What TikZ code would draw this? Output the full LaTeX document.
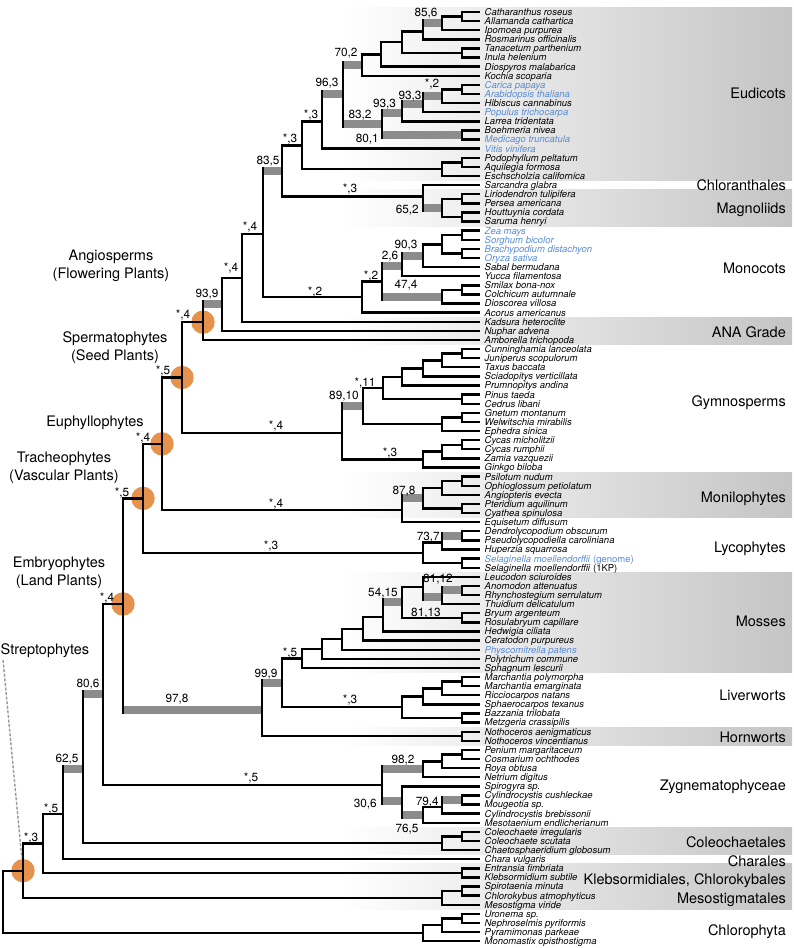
\documentclass[tikz,border=0pt]{standalone}
\usepackage{fontspec}
\setmainfont{texgyreheros}[Extension=.otf, UprightFont=*-regular,
  ItalicFont=*-italic, BoldFont=*-bold, BoldItalicFont=*-bolditalic]
\usetikzlibrary{calc}

\definecolor{taxblue}{RGB}{88,140,214}
\definecolor{barGray}{RGB}{140,140,140}
\definecolor{nodeOrange}{RGB}{231,146,76}

\pgfdeclarelayer{background}
\pgfsetlayers{background,main}

\tikzset{
  branch/.style={line width=2.4pt, line join=miter},
  supline/.style={line width=8pt, draw=barGray},
  taxon/.style={anchor=west, inner xsep=4.5pt, inner ysep=0pt,
    font=\fontsize{9.5}{9.5}\selectfont\itshape, text height=6.8pt, text depth=0pt},
  suplabel/.style={inner sep=0pt, font=\fontsize{11.8}{11.8}\selectfont,
    text height=8.4pt, text depth=0pt},
  cladeR/.style={anchor=east, inner sep=0pt, font=\fontsize{14.5}{14.5}\selectfont,
    text height=10.4pt, text depth=0pt},
  cladeS/.style={inner sep=0pt, font=\fontsize{14.5}{14.5}\selectfont,
    text height=10.4pt, text depth=0pt},
  cladeL/.style={inner sep=0pt, align=center, font=\fontsize{14.5}{18}\selectfont},
  keynode/.style={circle, fill=nodeOrange, minimum size=23.4pt, inner sep=0pt},
  bandfill/.style={left color=white, right color=black!23},
  strepline/.style={draw=black!40, line width=1.4pt, dash pattern=on 3pt off 1.6pt},
}

% blue = sequenced genome
\newcommand{\bl}[1]{\textcolor{taxblue}{#1}}
% clade: name, x, upper child, lower child
\newcommand{\mkclade}[4]{%
  \path let \p1=(#3), \p2=(#4) in (#2pt,{0.5*(\y1+\y2)}) coordinate (#1);
  \draw[branch] (#1) |- (#3);
  \draw[branch] (#1) |- (#4);
}
% grey support bar on the branch parent -> child
\newcommand{\supbar}[2]{%
  \draw[supline] (#1 |- #2) -- ($(#2)+(-1.2pt,0pt)$);
  \draw[branch] ($(#1 |- #2)+(0pt,-4pt)$) -- ($(#1 |- #2)+(0pt,4pt)$);
}
% shaded band behind taxa #1..#2
\newcommand{\mkband}[2]{%
  \shade[bandfill] (340,{12+(#1-1)*9.11-4.55}) rectangle (792,{12+(#2-1)*9.11+4.55});
}

\begin{document}
\begin{tikzpicture}[x=1pt,y=-1pt]
\useasboundingbox (0,0) rectangle (794,948);

% Bands
\begin{pgfonlayer}{background}
\mkband{1}{19}
\mkband{21}{24}
\mkband{35}{37}
\mkband{52}{56}
\mkband{63}{73}
\mkband{80}{81}
\mkband{91}{93}
\mkband{95}{99}
\end{pgfonlayer}

% Taxa
\foreach \tx [count=\i] in {
  Catharanthus roseus, Allamanda cathartica, Ipomoea purpurea,
  Rosmarinus officinalis, Tanacetum parthenium, Inula helenium,
  Diospyros malabarica, Kochia scoparia, \bl{Carica papaya},
  \bl{Arabidopsis thaliana}, Hibiscus cannabinus, \bl{Populus trichocarpa},
  Larrea tridentata, Boehmeria nivea, \bl{Medicago truncatula},
  \bl{Vitis vinifera}, Podophyllum peltatum, Aquilegia formosa,
  Eschscholzia californica, Sarcandra glabra, Liriodendron tulipifera,
  Persea americana, Houttuynia cordata, Saruma henryi,
  \bl{Zea mays}, \bl{Sorghum bicolor}, \bl{Brachypodium distachyon},
  \bl{Oryza sativa}, Sabal bermudana, Yucca filamentosa,
  Smilax bona-nox, Colchicum autumnale, Dioscorea villosa,
  Acorus americanus, Kadsura heteroclite, Nuphar advena,
  Amborella trichopoda, Cunninghamia lanceolata, Juniperus scopulorum,
  Taxus baccata, Sciadopitys verticillata, Prumnopitys andina,
  Pinus taeda, Cedrus libani, Gnetum montanum,
  Welwitschia mirabilis, Ephedra sinica, Cycas micholitzii,
  Cycas rumphii, Zamia vazquezii, Ginkgo biloba,
  Psilotum nudum, Ophioglossum petiolatum, Angiopteris evecta,
  Pteridium aquilinum, Cyathea spinulosa, Equisetum diffusum,
  Dendrolycopodium obscurum, Pseudolycopodiella caroliniana, Huperzia squarrosa,
  \bl{Selaginella moellendorffii \textup{(genome)}},
  Selaginella moellendorffii \textup{(1KP)}, Leucodon sciuroides,
  Anomodon attenuatus, Rhynchostegium serrulatum, Thuidium delicatulum,
  Bryum argenteum, Rosulabryum capillare, Hedwigia ciliata,
  Ceratodon purpureus, \bl{Physcomitrella patens}, Polytrichum commune,
  Sphagnum lescurii, Marchantia polymorpha, Marchantia emarginata,
  Ricciocarpos natans, Sphaerocarpos texanus, Bazzania trilobata,
  Metzgeria crassipilis, Nothoceros aenigmaticus, Nothoceros vincentianus,
  Penium margaritaceum, Cosmarium ochthodes, Roya obtusa,
  Netrium digitus, Spirogyra sp., Cylindrocystis cushleckae,
  Mougeotia sp., Cylindrocystis brebissonii, Mesotaenium endlicherianum,
  Coleochaete irregularis, Coleochaete scutata, Chaetosphaeridium globosum,
  Chara vulgaris, Entransia fimbriata, Klebsormidium subtile,
  Spirotaenia minuta, Chlorokybus atmophyticus, Mesostigma viride,
  Uronema sp., Nephroselmis pyriformis, Pyramimonas parkeae,
  Monomastix opisthostigma}
  \node[taxon] (t\i) at (480,{12+(\i-1)*9.11}) {\tx};

% Eudicots
\mkclade{a1}{462}{t1.west}{t2.west}
\mkclade{a2}{442}{a1}{t3.west}
\mkclade{a3}{423}{a2}{t4.west}
\mkclade{a4}{462}{t5.west}{t6.west}
\mkclade{a5}{402}{a3}{a4}
\mkclade{a6}{381}{a5}{t7.west}
\mkclade{a7}{362}{a6}{t8.west}
\mkclade{a8}{462}{t9.west}{t10.west}
\mkclade{a9}{442}{a8}{t11.west}
\mkclade{a10}{423}{a9}{t12.west}
\mkclade{a11}{402}{a10}{t13.west}
\mkclade{a12}{462}{t14.west}{t15.west}
\mkclade{a13}{382}{a11}{a12}
\mkclade{a14}{343}{a7}{a13}
\mkclade{a15}{322}{a14}{t16.west}
\mkclade{a16}{462}{t17.west}{t18.west}
\mkclade{a17}{442}{a16}{t19.west}
\mkclade{a18}{302}{a15}{a17}
\supbar{a3}{a2}
\supbar{a10}{a9}
\supbar{a11}{a10}
\supbar{a13}{a11}
\supbar{a13}{a12}
\supbar{a14}{a7}
\supbar{a14}{a13}
\supbar{a15}{a14}

% Chloranthales, Magnoliids
\mkclade{m1}{462}{t21.west}{t22.west}
\mkclade{m2}{462}{t23.west}{t24.west}
\mkclade{m3}{442}{m1}{m2}
\mkclade{m4}{423}{t20.west}{m3}
\mkclade{a19}{282}{a18}{m4}
\supbar{m4}{m3}

% Monocots
\mkclade{k1}{462}{t25.west}{t26.west}
\mkclade{k2}{462}{t27.west}{t28.west}
\mkclade{k3}{442}{k1}{k2}
\mkclade{k4}{423}{k3}{t29.west}
\mkclade{k5}{402}{k4}{t30.west}
\mkclade{k6}{462}{t31.west}{t32.west}
\mkclade{k7}{442}{k6}{t33.west}
\mkclade{k8}{382}{k5}{k7}
\mkclade{k9}{362}{k8}{t34.west}
\supbar{k5}{k4}
\supbar{k8}{k5}
\supbar{k8}{k7}

% ANA grade
\mkclade{g1}{263}{a19}{k9}
\mkclade{g2}{242}{g1}{t35.west}
\mkclade{g3}{222}{g2}{t36.west}
\mkclade{g4}{203}{g3}{t37.west}
\supbar{g1}{a19}
\supbar{g4}{g3}

% Gymnosperms
\mkclade{y1}{462}{t38.west}{t39.west}
\mkclade{y2}{442}{y1}{t40.west}
\mkclade{y3}{423}{y2}{t41.west}
\mkclade{y4}{402}{y3}{t42.west}
\mkclade{y5}{462}{t43.west}{t44.west}
\mkclade{y6}{383}{y4}{y5}
\mkclade{y7}{462}{t45.west}{t46.west}
\mkclade{y8}{442}{y7}{t47.west}
\mkclade{y9}{363}{y6}{y8}
\mkclade{y10}{462}{t48.west}{t49.west}
\mkclade{y11}{442}{y10}{t50.west}
\mkclade{y12}{423}{y11}{t51.west}
\mkclade{y13}{342}{y9}{y12}
\mkclade{sp}{182}{g4}{y13}
\supbar{y13}{y9}

% Monilophytes
\mkclade{f1}{462}{t52.west}{t53.west}
\mkclade{f2}{442}{f1}{t54.west}
\mkclade{f3}{462}{t55.west}{t56.west}
\mkclade{f4}{423}{f2}{f3}
\mkclade{f5}{402}{f4}{t57.west}
\mkclade{eu}{162}{sp}{f5}
\supbar{f5}{f4}

% Lycophytes
\mkclade{l1}{462}{t58.west}{t59.west}
\mkclade{l2}{442}{l1}{t60.west}
\mkclade{l3}{462}{t61.west}{t62.west}
\mkclade{l4}{423}{l2}{l3}
\mkclade{tr}{143}{eu}{l4}
\supbar{l2}{l1}

% Mosses
\mkclade{b1}{462}{t64.west}{t65.west}
\mkclade{b2}{442}{b1}{t66.west}
\mkclade{b3}{423}{t63.west}{b2}
\mkclade{b4}{462}{t67.west}{t68.west}
\mkclade{b5}{402}{b3}{b4}
\mkclade{b6}{383}{b5}{t69.west}
\mkclade{b7}{363}{b6}{t70.west}
\mkclade{b8}{342}{b7}{t71.west}
\mkclade{b9}{322}{b8}{t72.west}
\mkclade{b10}{302}{b9}{t73.west}
\supbar{b2}{b1}
\supbar{b3}{b2}
\supbar{b6}{b5}

% Liverworts, Hornworts
\mkclade{v1}{462}{t74.west}{t75.west}
\mkclade{v2}{442}{v1}{t76.west}
\mkclade{v3}{423}{v2}{t77.west}
\mkclade{v4}{462}{t78.west}{t79.west}
\mkclade{v5}{402}{v3}{v4}
\mkclade{b11}{282}{b10}{v5}
\mkclade{h1}{462}{t80.west}{t81.west}
\mkclade{b12}{262}{b11}{h1}
\mkclade{em}{123}{tr}{b12}
\supbar{b12}{b11}
\supbar{em}{b12}

% Zygnematophyceae
\mkclade{z1}{462}{t82.west}{t83.west}
\mkclade{z2}{442}{z1}{t84.west}
\mkclade{z3}{423}{z2}{t85.west}
\mkclade{z4}{462}{t87.west}{t88.west}
\mkclade{z5}{442}{z4}{t89.west}
\mkclade{z6}{423}{z5}{t90.west}
\mkclade{z7}{402}{t86.west}{z6}
\mkclade{z8}{382}{z3}{z7}
\mkclade{r1}{103}{em}{z8}
\supbar{z5}{z4}
\supbar{z7}{z6}
\supbar{z8}{z3}
\supbar{z8}{z7}

% Algal grades
\mkclade{c1}{462}{t91.west}{t92.west}
\mkclade{c2}{442}{c1}{t93.west}
\mkclade{r2}{83}{r1}{c2}
\mkclade{r3}{63}{r2}{t94.west}
\mkclade{q1}{462}{t95.west}{t96.west}
\mkclade{r4}{43}{r3}{q1}
\mkclade{q2}{462}{t97.west}{t98.west}
\mkclade{q3}{442}{q2}{t99.west}
\mkclade{st}{23}{r4}{q3}
\supbar{r2}{r1}
\supbar{r3}{r2}

% Chlorophyta and root
\mkclade{p1}{462}{t100.west}{t101.west}
\mkclade{p2}{442}{p1}{t102.west}
\mkclade{p3}{423}{p2}{t103.west}
\mkclade{root}{3}{st}{p3}

% Key nodes
\begin{pgfonlayer}{background}
\node[keynode] (oAng) at (g4) {};
\node[keynode] (oSpe) at (sp) {};
\node[keynode] (oEup) at (eu) {};
\node[keynode] (oTra) at (tr) {};
\node[keynode] (oEmb) at (em) {};
\node[keynode] (oStr) at (st) {};
\end{pgfonlayer}

% Support values
\node[suplabel] (sl1) at (426,12) {85,6};
\node[suplabel] (sl2) at (346,52) {70,2};
\node[suplabel] (sl3) at (327,82) {96,3};
\node[suplabel] (sl4) at (360,114) {83,2};
\node[suplabel] (sl5) at (384.5,103) {93,3};
\node[suplabel,anchor=east] (sl6) at (379,138) {80,1};
\node[suplabel] (sl7) at (410,95) {93,3};
\node[suplabel] (sl8) at (432,83) {*,2};
\node[suplabel] (sl9) at (311,114) {*,3};
\node[suplabel] (sl10) at (290,138) {*,3};
\node[suplabel] (sl11) at (268,160) {83,5};
\node[suplabel] (sl12) at (350,188) {*,3};
\node[suplabel,anchor=east] (sl13) at (419,209) {65,2};
\node[suplabel] (sl14) at (250,226) {*,4};
\node[suplabel] (sl15) at (231,267) {*,4};
\node[suplabel] (sl16) at (207,293) {93,9};
\node[suplabel] (sl17) at (183,314) {*,4};
\node[suplabel] (sl18) at (315,291) {*,2};
\node[suplabel] (sl19) at (371,275) {*,2};
\node[suplabel] (sl20) at (390,255) {2,6};
\node[suplabel] (sl21) at (406,244) {90,3};
\node[suplabel] (sl22) at (406,284) {47,4};
\node[suplabel] (sl23) at (163,370) {*,5};
\node[suplabel] (sl24) at (365,382) {*,11};
\node[suplabel] (sl25) at (344,395) {89,10};
\node[suplabel] (sl26) at (276,425) {*,4};
\node[suplabel] (sl27) at (390,452) {*,3};
\node[suplabel] (sl28) at (143,437) {*,4};
\node[suplabel] (sl29) at (276,503) {*,4};
\node[suplabel] (sl30) at (404,490) {87,8};
\node[suplabel] (sl31) at (122,492) {*,5};
\node[suplabel] (sl32) at (271,545) {*,3};
\node[suplabel,anchor=east] (sl33) at (440,536) {73,7};
\node[suplabel] (sl34) at (107,597) {*,4};
\node[suplabel] (sl35) at (383,592) {54,15};
\node[suplabel] (sl36) at (438,578) {81,12};
\node[suplabel] (sl37) at (426,612) {81,13};
\node[suplabel] (sl38) at (290,652) {*,5};
\node[suplabel] (sl39) at (350,699) {*,3};
\node[suplabel] (sl40) at (266,673) {99,9};
\node[suplabel] (sl41) at (177,698) {97,8};
\node[suplabel] (sl42) at (88,683) {80,6};
\node[suplabel] (sl43) at (251,777) {*,5};
\node[suplabel] (sl44) at (403,759) {98,2};
\node[suplabel,anchor=east] (sl45) at (377,803) {30,6};
\node[suplabel,anchor=east] (sl46) at (439,801) {79,4};
\node[suplabel] (sl47) at (407,828) {76,5};
\node[suplabel] (sl48) at (67,758) {62,5};
\node[suplabel] (sl49) at (51,808) {*,5};
\node[suplabel] (sl50) at (31,837) {*,3};

% Clade names, left
\node[cladeL] (nAng) at (111,265.5) {Angiosperms\\(Flowering Plants)};
\node[cladeL] (nSpe) at (115,347.5) {Spermatophytes\\(Seed Plants)};
\node[cladeS] (nEup) at (95,421) {Euphyllophytes};
\node[cladeL] (nTra) at (64,467.5) {Tracheophytes\\(Vascular Plants)};
\node[cladeL] (nEmb) at (59,572.5) {Embryophytes\\(Land Plants)};
\node[cladeS,anchor=west] (nStr) at (0.5,649) {Streptophytes};
\coordinate (strepfoot) at (3,660);
\draw[strepline, shorten >=12.5pt] (strepfoot) -- (st);

% Clade names, right
\node[cladeR] (rEud) at (786,93) {Eudicots};
\node[cladeR] (rChl) at (786,185) {Chloranthales};
\node[cladeR] (rMag) at (786,208) {Magnoliids};
\node[cladeR] (rMon) at (786,268) {Monocots};
\node[cladeR] (rANA) at (786,332) {ANA Grade};
\node[cladeR] (rGym) at (786,401) {Gymnosperms};
\node[cladeR] (rMnl) at (786,497) {Monilophytes};
\node[cladeR] (rLyc) at (786,547) {Lycophytes};
\node[cladeR] (rMos) at (786,621) {Mosses};
\node[cladeR] (rLiv) at (786,695) {Liverworts};
\node[cladeR] (rHor) at (786,737) {Hornworts};
\node[cladeR] (rZyg) at (786,785) {Zygnematophyceae};
\node[cladeR] (rCol) at (786,842) {Coleochaetales};
\node[cladeR] (rCha) at (786,861) {Charales};
\node[cladeR] (rKle) at (786,879) {Klebsormidiales, Chlorokybales};
\node[cladeR] (rMes) at (786,898) {Mesostigmatales};
\node[cladeR] (rCph) at (786,930) {Chlorophyta};

\end{tikzpicture}
\end{document}
